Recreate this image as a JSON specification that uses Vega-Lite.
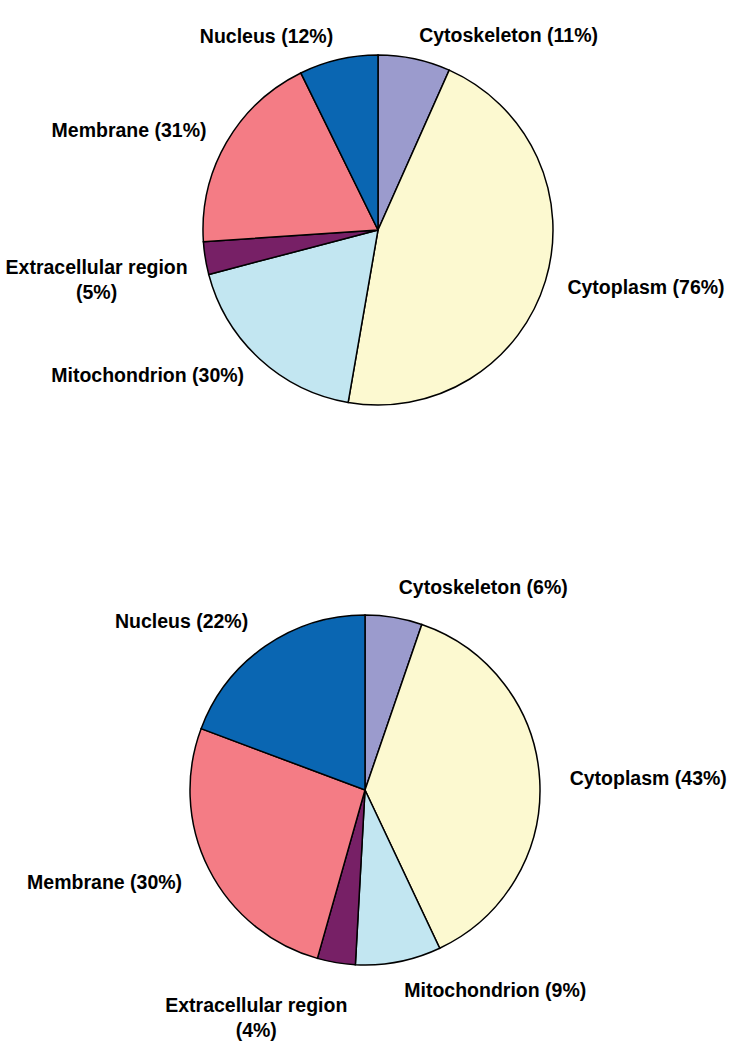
{
  "$schema": "https://vega.github.io/schema/vega-lite/v6.json",
  "padding": {"left": 5, "top": 26, "right": 5, "bottom": 5},
  "config": {"view": {"stroke": null}, "font": "Liberation Sans"},
  "bounds": "flush",
  "spacing": 200,
  "datasets": {
    "top": [
      {"rank": 1, "category": "Cytoskeleton", "value": 11, "label": "Cytoskeleton (11%)"},
      {"rank": 2, "category": "Cytoplasm", "value": 76, "label": "Cytoplasm (76%)"},
      {"rank": 3, "category": "Mitochondrion", "value": 30, "label": "Mitochondrion (30%)"},
      {"rank": 4, "category": "Extracellular region", "value": 5, "label": "Extracellular region\n(5%)"},
      {"rank": 5, "category": "Membrane", "value": 31, "label": "Membrane (31%)"},
      {"rank": 6, "category": "Nucleus", "value": 12, "label": "Nucleus (12%)"}
    ],
    "bottom": [
      {"rank": 1, "category": "Cytoskeleton", "value": 6, "label": "Cytoskeleton (6%)"},
      {"rank": 2, "category": "Cytoplasm", "value": 43, "label": "Cytoplasm (43%)"},
      {"rank": 3, "category": "Mitochondrion", "value": 9, "label": "Mitochondrion (9%)"},
      {"rank": 4, "category": "Extracellular region", "value": 4, "label": "Extracellular region\n(4%)"},
      {"rank": 5, "category": "Membrane", "value": 30, "label": "Membrane (30%)"},
      {"rank": 6, "category": "Nucleus", "value": 22, "label": "Nucleus (22%)"}
    ]
  },
  "vconcat": [
    {
      "width": 360,
      "height": 360,
      "data": {"name": "top"},
      "encoding": {
        "theta": {"field": "value", "type": "quantitative", "stack": true},
        "order": {"field": "rank", "type": "quantitative"}
      },
      "layer": [
        {
          "mark": {"type": "arc", "radius": 175, "stroke": "black", "strokeWidth": 1.5},
          "encoding": {
            "color": {
              "field": "category", "type": "nominal", "legend": null,
              "scale": {
                "domain": ["Cytoskeleton", "Cytoplasm", "Mitochondrion", "Extracellular region", "Membrane", "Nucleus"],
                "range": ["#9b9bcd", "#fcf9d0", "#c2e6f1", "#772066", "#f47c85", "#0a66b2"]
              }
            }
          }
        },
        {
          "mark": {"type": "text", "radius": 198, "align": "left", "baseline": "middle", "fontSize": 19.5, "fontWeight": "bold", "lineBreak": "\n", "color": "black"},
          "encoding": {
            "text": {"condition": {"test": "datum.rank <= 2", "field": "label"}, "value": ""}
          }
        },
        {
          "mark": {"type": "text", "radius": 198, "align": "right", "baseline": "middle", "fontSize": 19.5, "fontWeight": "bold", "lineBreak": "\n", "color": "black"},
          "encoding": {
            "text": {"condition": {"test": "datum.rank == 3 || datum.rank >= 5", "field": "label"}, "value": ""}
          }
        },
        {
          "mark": {"type": "text", "radius": 198, "dx": -86, "dy": 6, "align": "center", "baseline": "middle", "fontSize": 19.5, "fontWeight": "bold", "lineBreak": "\n", "lineHeight": 25, "color": "black"},
          "encoding": {
            "text": {"condition": {"test": "datum.rank == 4", "field": "label"}, "value": ""}
          }
        }
      ]
    },
    {
      "width": 334,
      "height": 360,
      "data": {"name": "bottom"},
      "encoding": {
        "theta": {"field": "value", "type": "quantitative", "stack": true},
        "order": {"field": "rank", "type": "quantitative"}
      },
      "layer": [
        {
          "mark": {"type": "arc", "radius": 175, "stroke": "black", "strokeWidth": 1.5},
          "encoding": {
            "color": {
              "field": "category", "type": "nominal", "legend": null,
              "scale": {
                "domain": ["Cytoskeleton", "Cytoplasm", "Mitochondrion", "Extracellular region", "Membrane", "Nucleus"],
                "range": ["#9b9bcd", "#fcf9d0", "#c2e6f1", "#772066", "#f47c85", "#0a66b2"]
              }
            }
          }
        },
        {
          "mark": {"type": "text", "radius": 205, "align": "left", "baseline": "middle", "fontSize": 19.5, "fontWeight": "bold", "lineBreak": "\n", "color": "black"},
          "encoding": {
            "text": {"condition": {"test": "datum.rank <= 3", "field": "label"}, "value": ""}
          }
        },
        {
          "mark": {"type": "text", "radius": 205, "align": "right", "baseline": "middle", "fontSize": 19.5, "fontWeight": "bold", "lineBreak": "\n", "color": "black"},
          "encoding": {
            "text": {"condition": {"test": "datum.rank >= 5", "field": "label"}, "value": ""}
          }
        },
        {
          "mark": {"type": "text", "radius": 205, "dx": -75, "dy": 14, "align": "center", "baseline": "middle", "fontSize": 19.5, "fontWeight": "bold", "lineBreak": "\n", "lineHeight": 25, "color": "black"},
          "encoding": {
            "text": {"condition": {"test": "datum.rank == 4", "field": "label"}, "value": ""}
          }
        }
      ]
    }
  ]
}
